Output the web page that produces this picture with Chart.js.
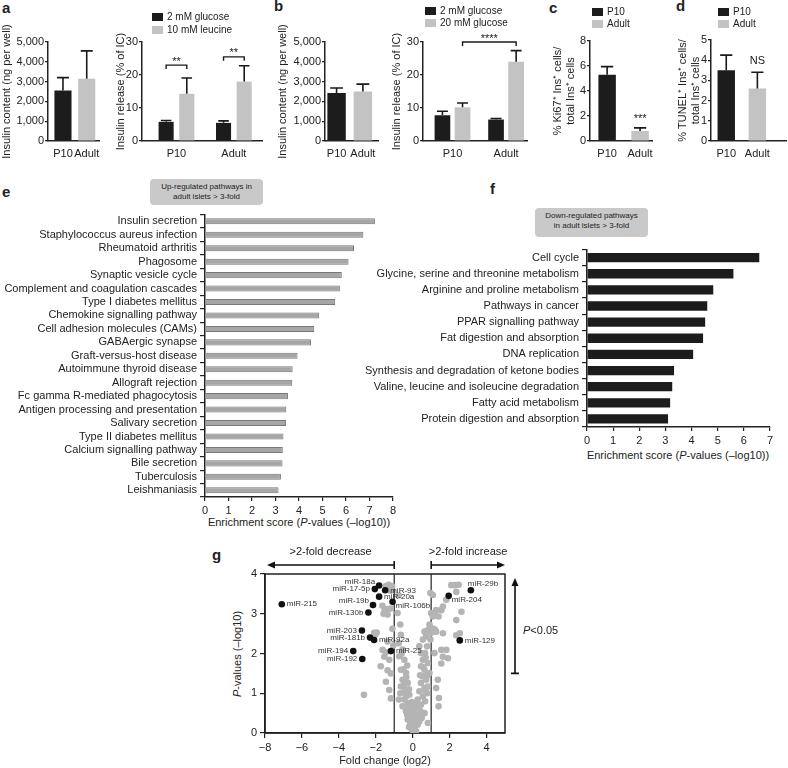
<!DOCTYPE html>
<html lang="en">
<head>
<meta charset="UTF-8">
<title>Islet maturation figure</title>
<script src="https://cdn.jsdelivr.net/npm/chart.js"></script>
<style>
  body { margin: 0; background: #fff; }
  #fig { position: relative; width: 788px; height: 768px; overflow: hidden;
         font-family: "Liberation Sans", Arial, sans-serif; color: #222; }
  #fig canvas { position: absolute; }
  .lt { position: absolute; font-weight: bold; font-size: 15px; line-height: 15px; }
  .lg { position: absolute; font-size: 10px; white-space: nowrap; }
  .lg div { height: 12px; line-height: 12px; }
  .sw { display: inline-block; width: 11px; height: 8px; margin-right: 4px; vertical-align: -1px; }
  .box { position: absolute; background: #c9c9c9; border-radius: 4px; font-size: 8px;
         line-height: 10px; text-align: center; box-sizing: border-box; padding-top: 3px; }
  .ttl { position: absolute; font-size: 11px; white-space: nowrap; transform: translate(-50%, -50%); }
  .ttl.rot { transform: translate(-50%, -50%) rotate(-90deg); }
</style>
</head>
<body>
<div id="fig">
  <div class="lt" style="left:2px;top:0px">a</div>
  <div class="lt" style="left:274px;top:-2px">b</div>
  <div class="lt" style="left:549px;top:0px">c</div>
  <div class="lt" style="left:676px;top:-2px">d</div>
  <div class="lt" style="left:2px;top:184px">e</div>
  <div class="lt" style="left:490px;top:181px">f</div>
  <div class="lt" style="left:212px;top:547px">g</div>

  <div class="box" style="left:150px;top:179px;width:113px;height:26px">Up-regulated pathways in<br>adult islets &gt; 3-fold</div>
  <div class="box" style="left:535px;top:208px;width:113px;height:29px">Down-regulated pathways<br>in adult islets &gt; 3-fold</div>

  <div class="ttl" style="left:299px;top:522px">Enrichment score (<i>P</i>-values (&ndash;log10))</div>
  <div class="ttl" style="left:678px;top:455px">Enrichment score (<i>P</i>-values (&ndash;log10))</div>
  <div class="ttl rot" style="left:237px;top:654px"><i>P</i>-values (&ndash;log10)</div>
</div>

<script>
// ---- data ----
const groups = ['P10', 'Adult'];

// a
const contentA = [2550, 3150];
const contentAErr = [650, 1400];
const glucoseA = [5.8, 5.5];
const glucoseAErr = [0.4, 0.6];
const leucineA = [14.3, 18.0];
const leucineAErr = [4.8, 4.8];

// b
const contentB = [2430, 2500];
const contentBErr = [250, 370];
const lowGlucoseB = [7.8, 6.5];
const lowGlucoseBErr = [1.2, 0.3];
const highGlucoseB = [10.2, 24.0];
const highGlucoseBErr = [1.3, 3.4];

// c, d
const ki67 = [5.3, 0.8];
const ki67Err = [0.65, 0.25];
const tunel = [3.5, 2.6];
const tunelErr = [0.75, 0.8];

// e
const upPathways = ['Insulin secretion', 'Staphylococcus aureus infection', 'Rheumatoid arthritis',
  'Phagosome', 'Synaptic vesicle cycle', 'Complement and coagulation cascades',
  'Type I diabetes mellitus', 'Chemokine signalling pathway', 'Cell adhesion molecules (CAMs)',
  'GABAergic synapse', 'Graft-versus-host disease', 'Autoimmune thyroid disease',
  'Allograft rejection', 'Fc gamma R-mediated phagocytosis', 'Antigen processing and presentation',
  'Salivary secretion', 'Type II diabetes mellitus', 'Calcium signalling pathway',
  'Bile secretion', 'Tuberculosis', 'Leishmaniasis'];
const upScores = [7.23, 6.74, 6.34, 6.11, 5.82, 5.74, 5.54, 4.86, 4.65, 4.51, 3.94,
  3.73, 3.71, 3.53, 3.46, 3.45, 3.34, 3.31, 3.30, 3.23, 3.13];

// f
const downPathways = ['Cell cycle', 'Glycine, serine and threonine metabolism',
  'Arginine and proline metabolism', 'Pathways in cancer', 'PPAR signalling pathway',
  'Fat digestion and absorption', 'DNA replication', 'Synthesis and degradation of ketone bodies',
  'Valine, leucine and isoleucine degradation', 'Fatty acid metabolism',
  'Protein digestion and absorption'];
const downScores = [6.59, 5.60, 4.83, 4.60, 4.52, 4.44, 4.06, 3.33, 3.26, 3.18, 3.10];

// g
const mirNames = ['miR-215', 'miR-18a', 'miR-17-5p', 'miR-93', 'miR-19b', 'miR-20a', 'miR-106b',
  'miR-130b', 'miR-203', 'miR-181b', 'miR-92a', 'miR-194', 'miR-192', 'miR-25',
  'miR-29b', 'miR-204', 'miR-129'];
const mirFold = [-7.09, -1.82, -2.05, -1.49, -2.15, -1.82, -1.09, -2.40, -2.75, -2.31, -2.09,
  -3.22, -2.73, -1.18, 3.15, 1.95, 2.55];
const mirP = [3.24, 3.71, 3.62, 3.59, 3.22, 3.43, 3.30, 3.03, 2.58, 2.40, 2.34, 2.06, 1.86,
  2.06, 3.59, 3.45, 2.33];
const mirLabelSide = ['r', 'lt', 'l', 'r', 'lt', 'r', 'rb', 'l', 'l', 'l', 'r', 'l', 'l', 'r', 't', 'rb', 'r'];

const otherFold = [
  -2.64, -2.09, -1.95, -2.02, -1.45, -1.30, -1.12, -1.38, -1.20, -1.64, -1.58, -1.38, -1.52, -1.36,
  -1.20, -1.36, -1.63, -1.45, -1.54, -1.27, -1.73, -1.36, -1.18, -1.45, -1.27, -1.18, -1.10, -1.05,
  -0.76, -0.82, -0.67, -0.64, -0.76, -0.55, -0.73, -0.45, -0.64, -0.36, -0.55, -0.27, -0.64, -0.42,
  -0.18, -0.45, -0.27, -0.09, -0.55, -0.36, -0.18, 0.00, -0.27, -0.13, 0.09, -0.05, 0.18, 0.04,
  -0.36, 0.09, 0.27, 0.18, 0.05, -0.24, -0.48, -0.67, -0.75, -0.20, -0.10, 0.12, 0.22, -0.30,
  -0.15, -0.05, 0.10, -0.35, -0.20, -0.50, -0.30, -0.60,
  0.36, 0.45, 0.55, 0.67, 0.78, 0.45, 0.64, 0.82, 0.55, 0.73, 0.91, 0.45, 0.64, 0.82, 0.36, 0.55,
  0.78, 0.27, 0.45, 0.67, 0.24, 0.42, 0.18, 0.31, 0.49, 0.36, 0.64, 0.82, 1.00, 0.96, 0.73, 0.55,
  0.91, 1.00, 0.96, 0.64, 0.82, 0.70, 0.58, 0.80, 0.40, 0.70,
  2.09, 2.27, 2.49, 2.36, 1.09, 1.82, 1.64, 1.55, 1.27, 1.18, 2.64, 1.09, 1.40, 2.36, 1.09, 1.27,
  1.64, 2.36, 2.55, 1.55, 1.82, 1.64, 1.91, 1.55, 1.36, 1.27, 1.42, 1.40, 1.18, 1.20];
const otherP = [
  0.96, 2.52, 2.53, 2.48, 3.70, 3.73, 3.69, 3.63, 3.58, 3.20, 3.00, 3.12, 3.08, 2.98,
  3.13, 2.30, 2.09, 2.03, 1.92, 1.84, 1.68, 1.58, 1.50, 1.29, 1.08, 0.87, 2.62, 2.20,
  3.46, 3.02, 2.73, 2.47, 2.26, 2.10, 1.93, 1.84, 1.59, 1.51, 1.34, 1.26, 1.17, 1.05,
  0.96, 0.84, 0.75, 0.67, 0.67, 0.55, 0.46, 0.38, 0.34, 0.25, 0.17, 0.08, 0.04, 0.01,
  0.92, 0.29, 0.21, 0.42, 0.55, 0.63, 1.20, 1.00, 0.84, 0.15, 0.35, 0.10, 0.30, 0.45,
  0.60, 0.78, 0.70, 1.40, 1.10, 1.60, 1.70, 2.00,
  2.18, 2.01, 1.84, 2.01, 2.18, 1.68, 1.59, 1.76, 1.43, 1.34, 1.51, 1.26, 1.13, 1.17, 1.05, 0.92,
  1.00, 0.84, 0.71, 0.80, 0.63, 0.55, 0.75, 0.46, 0.38, 0.29, 0.50, 0.25, 2.52, 2.35, 2.43, 2.35,
  2.73, 3.02, 3.52, 2.55, 2.59, 1.90, 1.65, 1.45, 1.45, 1.05,
  3.72, 3.72, 3.73, 3.55, 3.47, 3.35, 3.18, 3.09, 3.09, 3.01, 3.05, 2.93, 2.93, 2.84, 2.63, 2.55,
  2.51, 2.46, 2.51, 2.09, 2.09, 1.92, 1.88, 1.75, 1.34, 1.13, 0.88, 0.67, 2.01, 2.60];

const foldBand = [-1, 1];      // >2-fold cut-offs
const pArrowSpan = [1.5, 3.9];  // P<0.05 arrow

// ---- setup ----
const DARK = '#1c1c1c';
const LIGHT = '#c3c3c3';
const AXIS = '#222';

Chart.defaults.font.family = '"Liberation Sans", Arial, sans-serif';
Chart.defaults.font.size = 11;
Chart.defaults.color = '#222';
Chart.defaults.animation = false;
Chart.defaults.plugins.legend.display = false;
Chart.defaults.plugins.tooltip.enabled = false;

const fig = document.getElementById('fig');

function addCanvas(left, top, w, h) {
  const c = document.createElement('canvas');
  c.width = w; c.height = h;
  c.style.left = left + 'px'; c.style.top = top + 'px';
  c.style.width = w + 'px'; c.style.height = h + 'px';
  fig.appendChild(c);
  return c;
}

function addLegend(left, top, names, colors, gap) {
  const d = document.createElement('div');
  d.className = 'lg';
  d.style.left = left + 'px'; d.style.top = top + 'px';
  names.forEach((n, i) => {
    const row = document.createElement('div');
    row.style.height = gap + 'px';
    row.innerHTML = '<span class="sw" style="background:' + colors[i] + '"></span>' + n;
    d.appendChild(row);
  });
  fig.appendChild(d);
}

// error bars (upper only, like the original)
const errorBars = {
  id: 'errorBars',
  afterDatasetsDraw(chart) {
    const ctx = chart.ctx, y = chart.scales.y;
    ctx.save();
    ctx.strokeStyle = '#1a1a1a';
    ctx.lineWidth = 1.6;
    chart.data.datasets.forEach((ds, di) => {
      if (!ds.errors) return;
      chart.getDatasetMeta(di).data.forEach((bar, i) => {
        const top = y.getPixelForValue(ds.data[i].y + ds.errors[i]);
        const cap = bar.width * 0.35;
        ctx.beginPath();
        ctx.moveTo(bar.x, bar.y); ctx.lineTo(bar.x, top);
        ctx.moveTo(bar.x - cap, top); ctx.lineTo(bar.x + cap, top);
        ctx.stroke();
      });
    });
    ctx.restore();
  }
};

// significance brackets / labels
const sigMarks = {
  id: 'sigMarks',
  afterDatasetsDraw(chart, args, opts) {
    const marks = opts.marks;
    if (!marks || !marks.length) return;
    const ctx = chart.ctx;
    ctx.save();
    ctx.strokeStyle = '#1a1a1a';
    ctx.fillStyle = '#1a1a1a';
    ctx.lineWidth = 1.4;
    marks.forEach(m => {
      const x1 = chart.getDatasetMeta(m.from[0]).data[m.from[1]].x;
      const x2 = chart.getDatasetMeta(m.to[0]).data[m.to[1]].x;
      const yy = chart.scales.y.getPixelForValue(m.y);
      if (x1 !== x2) {
        ctx.beginPath();
        ctx.moveTo(x1, yy + 4); ctx.lineTo(x1, yy); ctx.lineTo(x2, yy); ctx.lineTo(x2, yy + 4);
        ctx.stroke();
      }
      ctx.font = '11px "Liberation Sans", Arial, sans-serif';
      ctx.textAlign = 'center';
      ctx.textBaseline = 'bottom';
      ctx.fillText(m.text, (x1 + x2) / 2, yy + (x1 !== x2 ? 2 : 0));
    });
    ctx.restore();
  }
};

Chart.register(errorBars, sigMarks);

function barPanel(p) {
  const c = addCanvas(p.left, p.top, p.w, p.h);
  return new Chart(c, {
    type: 'bar',
    data: {
      datasets: p.series.map(s => ({
        data: s.values.map((v, i) => ({ x: i + 1, y: v })),
        errors: s.errors,
        backgroundColor: s.color,
        categoryPercentage: p.cp,
        barPercentage: p.bp
      }))
    },
    options: {
      responsive: false,
      layout: { padding: { top: p.padTop, right: p.padRight, left: 0, bottom: 0 } },
      scales: {
        x: {
          type: 'linear', bounds: 'data', offset: false, min: p.xmin, max: p.xmax,
          afterBuildTicks: s => { s.ticks = groups.map((g, i) => ({ value: i + 1 })); },
          ticks: { callback: v => groups[v - 1], padding: 6, maxRotation: 0, autoSkip: false },
          grid: { display: false, drawTicks: false },
          border: { color: AXIS, width: 1.5 },
          afterFit: s => { s.height = p.xH; }
        },
        y: {
          min: 0, max: p.ymax,
          ticks: { stepSize: p.step, padding: 1, callback: v => v.toLocaleString('en-US') },
          grid: { drawOnChartArea: false, tickLength: 3, color: AXIS, lineWidth: 1.2 },
          border: { color: AXIS, width: 1.5 },
          title: { display: true, text: p.title, padding: 0, font: { size: 11 } },
          afterFit: s => { s.width = p.yW; }
        }
      },
      plugins: { sigMarks: { marks: p.sig || [] } }
    }
  });
}

function pathwayPanel(p) {
  const c = addCanvas(p.left, p.top, p.w, p.h);
  return new Chart(c, {
    type: 'bar',
    data: {
      labels: p.cats,
      datasets: [{
        data: p.values,
        backgroundColor: p.color,
        borderColor: p.border,
        borderWidth: p.borderWidth,
        borderSkipped: 'start',
        categoryPercentage: 1,
        barPercentage: p.bp
      }]
    },
    options: {
      indexAxis: 'y',
      responsive: false,
      layout: { padding: { top: p.padTop, right: p.padRight, left: 0, bottom: 0 } },
      scales: {
        y: {
          ticks: { padding: 3, autoSkip: false, font: { size: 11 } },
          grid: { offset: true, drawOnChartArea: false, tickLength: 5, color: AXIS, lineWidth: 1.2 },
          border: { color: AXIS, width: 1.5 },
          afterFit: s => { s.width = p.yW; }
        },
        x: {
          min: 0, max: p.xmax,
          ticks: { stepSize: 1, padding: 3 },
          grid: { drawOnChartArea: false, tickLength: 4, color: AXIS, lineWidth: 1.2 },
          border: { color: AXIS, width: 1.5 },
          afterFit: s => { s.height = p.xH; }
        }
      }
    }
  });
}

// ---- a ----
barPanel({
  left: 0, top: 10, w: 106, h: 160, yW: 48, xH: 29, padTop: 32, padRight: 3,
  xmin: 0.37, xmax: 2.53, cp: 1, bp: 0.72, ymax: 5000, step: 1000,
  title: 'Insulin content (ng per well)',
  series: [{ values: contentA, errors: contentAErr, color: [DARK, LIGHT] }]
});
barPanel({
  left: 114, top: 10, w: 150, h: 160, yW: 28, xH: 29, padTop: 32, padRight: 2,
  xmin: 0.4, xmax: 2.49, cp: 0.72, bp: 0.73, ymax: 30, step: 10,
  title: 'Insulin release (% of IC)',
  series: [{ values: glucoseA, errors: glucoseAErr, color: DARK },
           { values: leucineA, errors: leucineAErr, color: LIGHT }],
  sig: [{ from: [0, 0], to: [1, 0], y: 23, text: '**' },
        { from: [0, 1], to: [1, 1], y: 25.5, text: '**' }]
});
addLegend(152, 11, ['2 mM glucose', '10 mM leucine'], [DARK, LIGHT], 13);

// ---- b ----
barPanel({
  left: 276, top: 10, w: 106, h: 160, yW: 49, xH: 29, padTop: 32, padRight: 2,
  xmin: 0.56, xmax: 2.59, cp: 1, bp: 0.7, ymax: 5000, step: 1000,
  title: 'Insulin content (ng per well)',
  series: [{ values: contentB, errors: contentBErr, color: [DARK, LIGHT] }]
});
barPanel({
  left: 390, top: 10, w: 139, h: 160, yW: 33, xH: 29, padTop: 32, padRight: 2,
  xmin: 0.45, xmax: 2.39, cp: 0.75, bp: 0.78, ymax: 30, step: 10,
  title: 'Insulin release (% of IC)',
  series: [{ values: lowGlucoseB, errors: lowGlucoseBErr, color: DARK },
           { values: highGlucoseB, errors: highGlucoseBErr, color: LIGHT }],
  sig: [{ from: [1, 0], to: [1, 1], y: 30, text: '****' }]
});
addLegend(425, 5, ['2 mM glucose', '20 mM glucose'], [DARK, LIGHT], 12);

// ---- c ----
barPanel({
  left: 551, top: 30, w: 108, h: 140, yW: 39, xH: 29, padTop: 11, padRight: 2,
  xmin: 0.48, xmax: 2.37, cp: 1, bp: 0.53, ymax: 8, step: 2,
  title: ['% Ki67\u207A Ins\u207A cells/', 'total Ins\u207A cells'],
  series: [{ values: ki67, errors: ki67Err, color: [DARK, LIGHT] }],
  sig: [{ from: [0, 1], to: [0, 1], y: 1.35, text: '***' }]
});
addLegend(592, 6, groups, [DARK, LIGHT], 12);

// ---- d ----
barPanel({
  left: 676, top: 30, w: 112, h: 140, yW: 35, xH: 29, padTop: 10, padRight: 2,
  xmin: 0.51, xmax: 2.92, cp: 1, bp: 0.56, ymax: 5, step: 1,
  title: ['% TUNEL\u207A Ins\u207A cells/', 'total Ins\u207A cells'],
  series: [{ values: tunel, errors: tunelErr, color: [DARK, LIGHT] }],
  sig: [{ from: [0, 1], to: [0, 1], y: 3.7, text: 'NS' }]
});
addLegend(718, 6, groups, [DARK, LIGHT], 12);

// ---- e ----
pathwayPanel({
  left: 0, top: 205, w: 400, h: 324, yW: 205, xH: 32, padTop: 9, padRight: 7,
  cats: upPathways, values: upScores, xmax: 8, bp: 0.45,
  color: '#a6a6a6', border: '#777', borderWidth: 1
});

// ---- f ----
pathwayPanel({
  left: 350, top: 240, w: 438, h: 220, yW: 237, xH: 33, padTop: 7, padRight: 18,
  cats: downPathways, values: downScores, xmax: 7, bp: 0.58,
  color: DARK, border: DARK, borderWidth: 0
});

// ---- g ----
const volcanoDecor = {
  id: 'volcanoDecor',
  beforeDatasetsDraw(chart) {
    const { ctx, chartArea: a, scales: { x } } = chart;
    ctx.save();
    ctx.strokeStyle = AXIS;
    ctx.lineWidth = 1.5;
    ctx.strokeRect(a.left, a.top, a.right - a.left, a.bottom - a.top);
    ctx.lineWidth = 1.2;
    foldBand.forEach(f => {
      const px = x.getPixelForValue(f);
      ctx.beginPath(); ctx.moveTo(px, a.top); ctx.lineTo(px, a.bottom); ctx.stroke();
    });
    ctx.restore();
  },
  afterDatasetsDraw(chart) {
    const { ctx } = chart;
    const pts = chart.getDatasetMeta(0).data;
    ctx.save();
    ctx.font = '8px "Liberation Sans", Arial, sans-serif';
    ctx.fillStyle = '#333';
    ctx.textBaseline = 'middle';
    pts.forEach((pt, i) => {
      const s = mirLabelSide[i];
      if (s === 'l') { ctx.textAlign = 'right'; ctx.fillText(mirNames[i], pt.x - 5, pt.y); }
      else if (s === 'lt') { ctx.textAlign = 'right'; ctx.fillText(mirNames[i], pt.x - 4, pt.y - 4); }
      else if (s === 'r') { ctx.textAlign = 'left'; ctx.fillText(mirNames[i], pt.x + 5, pt.y); }
      else if (s === 'rb') { ctx.textAlign = 'left'; ctx.fillText(mirNames[i], pt.x + 3, pt.y + 4); }
      else { ctx.textAlign = 'left'; ctx.fillText(mirNames[i], pt.x - 3, pt.y - 7); }
    });
    ctx.restore();
  },
  afterDraw(chart) {
    const { ctx, chartArea: a, scales: { x, y } } = chart;
    const head = (x0, y0, dx, dy) => {
      ctx.beginPath();
      ctx.moveTo(x0, y0);
      ctx.lineTo(x0 - dx * 8 - dy * 3.5, y0 - dy * 8 - dx * 3.5);
      ctx.lineTo(x0 - dx * 8 + dy * 3.5, y0 - dy * 8 + dx * 3.5);
      ctx.closePath(); ctx.fill();
    };
    ctx.save();
    ctx.strokeStyle = '#111'; ctx.fillStyle = '#111'; ctx.lineWidth = 1.6;
    const ay = a.top - 9;
    const xl = x.getPixelForValue(foldBand[0]), xr = x.getPixelForValue(foldBand[1]);
    const xEndL = a.left + 2, xEndR = a.right;
    // decrease arrow
    ctx.beginPath(); ctx.moveTo(xl, ay); ctx.lineTo(xEndL + 6, ay);
    ctx.moveTo(xl, ay - 4); ctx.lineTo(xl, ay + 4); ctx.stroke();
    head(xEndL, ay, -1, 0);
    // increase arrow
    ctx.beginPath(); ctx.moveTo(xr, ay); ctx.lineTo(xEndR - 6, ay);
    ctx.moveTo(xr, ay - 4); ctx.lineTo(xr, ay + 4); ctx.stroke();
    head(xEndR, ay, 1, 0);
    // P arrow
    const vx = a.right + 10;
    const yb = y.getPixelForValue(pArrowSpan[0]), yt = y.getPixelForValue(pArrowSpan[1]);
    ctx.beginPath(); ctx.moveTo(vx, yb); ctx.lineTo(vx, yt + 6);
    ctx.moveTo(vx - 4, yb); ctx.lineTo(vx + 4, yb); ctx.stroke();
    head(vx, yt, 0, -1);
    // texts
    ctx.fillStyle = '#222';
    ctx.textBaseline = 'middle';
    ctx.textAlign = 'center';
    ctx.font = '11px "Liberation Sans", Arial, sans-serif';
    ctx.fillText('>2-fold decrease', (xl + xEndL) / 2, ay - 13);
    ctx.fillText('>2-fold increase', (xr + xEndR) / 2, ay - 13);
    ctx.textAlign = 'left';
    const ty = (yb + yt) / 2 + 5;
    ctx.font = 'italic 11px "Liberation Sans", Arial, sans-serif';
    ctx.fillText('P', vx + 8, ty);
    const w = ctx.measureText('P').width;
    ctx.font = '11px "Liberation Sans", Arial, sans-serif';
    ctx.fillText('<0.05', vx + 8 + w, ty);
    ctx.restore();
  }
};

new Chart(addCanvas(200, 540, 370, 228), {
  type: 'scatter',
  data: {
    datasets: [
      { data: mirFold.map((f, i) => ({ x: f, y: mirP[i] })), backgroundColor: '#111',
        pointRadius: 3.3, borderWidth: 0, order: 0 },
      { data: otherFold.map((f, i) => ({ x: f, y: otherP[i] })), backgroundColor: '#b4b4b4',
        pointRadius: 3.3, borderWidth: 0, order: 1 }
    ]
  },
  options: {
    responsive: false,
    layout: { padding: { top: 34, right: 65, left: 0, bottom: 0 } },
    scales: {
      x: {
        min: -8, max: 5,
        ticks: { stepSize: 2, includeBounds: false, padding: 3,
                 callback: v => (v < 0 ? '\u2212' + Math.abs(v) : String(v)) },
        grid: { drawOnChartArea: false, tickLength: 5, color: AXIS, lineWidth: 1.2 },
        border: { color: AXIS, width: 1.5 },
        title: { display: true, text: 'Fold change (log2)', padding: 0, font: { size: 11 } },
        afterFit: s => { s.height = 35; }
      },
      y: {
        min: 0, max: 4,
        ticks: { stepSize: 1, padding: 3 },
        grid: { drawOnChartArea: false, tickLength: 5, color: AXIS, lineWidth: 1.2 },
        border: { color: AXIS, width: 1.5 },
        afterFit: s => { s.width = 65; }
      }
    }
  },
  plugins: [volcanoDecor]
});
</script>
</body>
</html>
